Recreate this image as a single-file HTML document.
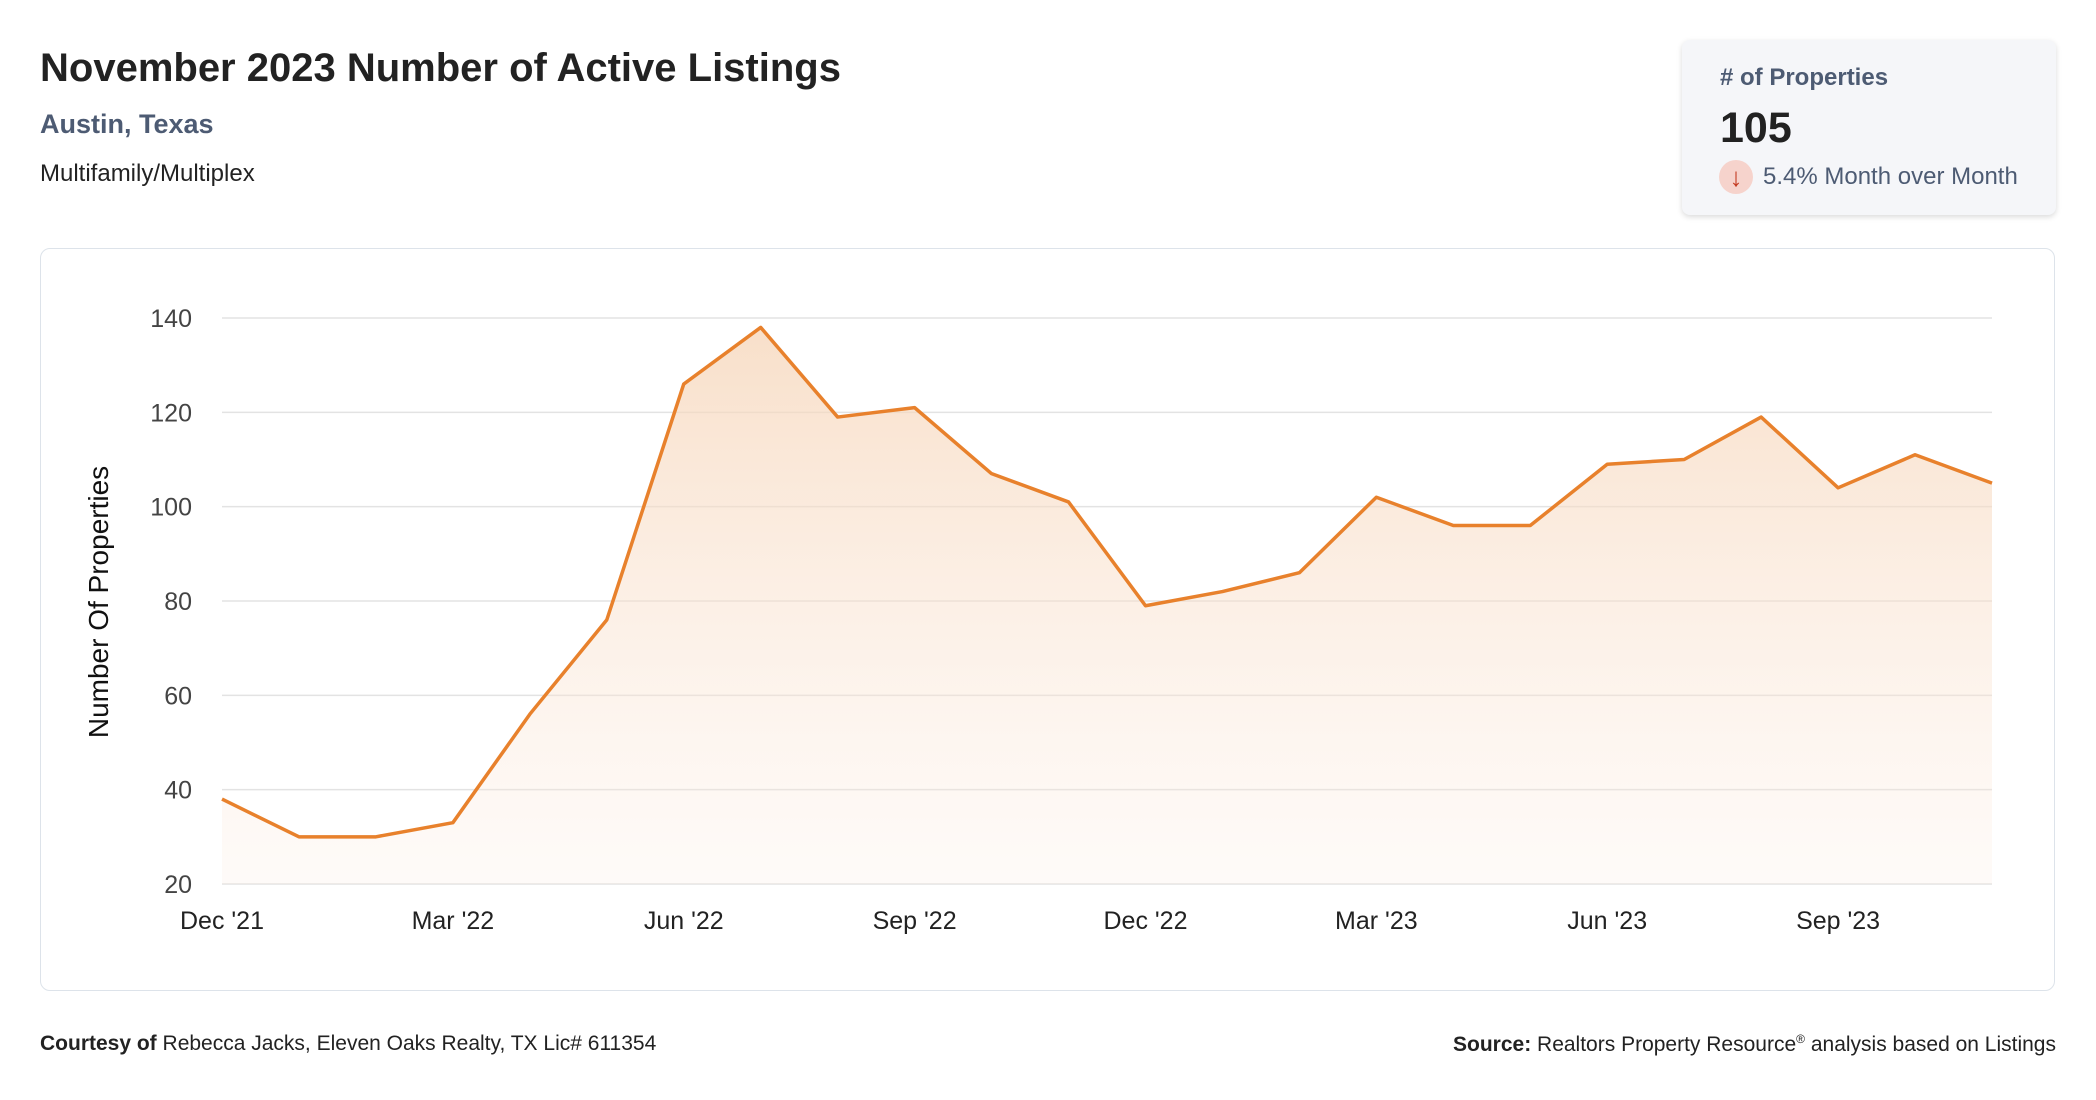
<!DOCTYPE html>
<html><head><meta charset="utf-8"><style>
body{margin:0;width:2096px;height:1100px;background:#fff;font-family:"Liberation Sans",sans-serif;position:relative;overflow:hidden}
.a{position:absolute;white-space:nowrap}
</style></head><body>
<div class="a" style="left:40px;top:46px;font-size:40px;font-weight:bold;color:#222">November 2023 Number of Active Listings</div>
<div class="a" style="left:40px;top:109px;font-size:27px;font-weight:bold;color:#4d5b73">Austin, Texas</div>
<div class="a" style="left:40px;top:160px;font-size:24px;color:#222">Multifamily/Multiplex</div>
<div class="a" style="left:1682px;top:40px;width:374px;height:175px;background:#f5f6f9;border-radius:8px;box-shadow:0 2px 6px rgba(0,0,0,.15)">
 <div class="a" style="left:38px;top:24px;font-size:24px;font-weight:bold;color:#4d5b73"># of Properties</div>
 <div class="a" style="left:38px;top:64px;font-size:43px;font-weight:bold;color:#222">105</div>
 <div class="a" style="left:37px;top:120px;width:34px;height:34px;border-radius:50%;background:#f6d3cc;color:#c43b22;font-size:26px;line-height:34px;text-align:center">↓</div>
 <div class="a" style="left:81px;top:123px;font-size:24px;color:#4d5b73">5.4% Month over Month</div>
</div>
<div class="a" style="left:40px;top:248px;width:2013px;height:741px;border:1.5px solid #dde3ea;border-radius:10px"></div>
<svg class="a" style="left:0;top:0" width="2096" height="1100">
<defs><linearGradient id="g" x1="0" y1="0" x2="0" y2="1"><stop offset="0" stop-color="#f6d5b8" stop-opacity=".75"/><stop offset="1" stop-color="#fbe9dc" stop-opacity=".2"/></linearGradient></defs>
<g id="grid"></g><path id="area" fill="url(#g)"/><path id="line" fill="none" stroke="#e8812c" stroke-width="3.5" stroke-linejoin="round"/><g id="xl"></g>
<text transform="translate(108,602) rotate(-90)" text-anchor="middle" font-size="28" fill="#111" font-family="Liberation Sans, sans-serif">Number Of Properties</text>
</svg>
<div class="a" style="left:40px;top:1032px;font-size:21px;color:#222"><b>Courtesy of</b> Rebecca Jacks, Eleven Oaks Realty, TX Lic# 611354</div>
<div class="a" style="right:40px;top:1032px;font-size:21px;color:#222"><b>Source:</b> Realtors Property Resource<sup style="font-size:12px">®</sup> analysis based on Listings</div>
<script>
const values=[38,30,30,33,56,76,126,138,119,121,107,101,79,82,86,102,96,96,109,110,119,104,111,105];
const yTicks=[20,40,60,80,100,120,140];
const xLabels=["Dec '21","Mar '22","Jun '22","Sep '22","Dec '22","Mar '23","Jun '23","Sep '23"];
const xLabelIdx=[0,3,6,9,12,15,18,21];
const X0=222,X1=1992,Y0=884,Y1=318,ymin=20,ymax=140;
const x=i=>X0+(X1-X0)*i/(values.length-1);
const y=v=>Y0-(Y0-Y1)*(v-ymin)/(ymax-ymin);
const NS="http://www.w3.org/2000/svg";
const grid=document.getElementById('grid');
yTicks.forEach(t=>{
 const l=document.createElementNS(NS,'line');
 
 
 l.setAttribute('x1',X0);l.setAttribute('x2',X1);l.setAttribute('y1',y(t));l.setAttribute('y2',y(t));
 l.setAttribute('stroke','#e3e3e3');l.setAttribute('stroke-width','1.5');grid.appendChild(l);
 const tx=document.createElementNS(NS,'text');
 
 
 tx.setAttribute('x',192);tx.setAttribute('y',y(t)+9);tx.setAttribute('text-anchor','end');
 tx.setAttribute('font-size','25');tx.setAttribute('fill','#444');tx.setAttribute('font-family','Liberation Sans, sans-serif');
 tx.textContent=t;grid.appendChild(tx);
});
let d=values.map((v,i)=>(i?'L':'M')+x(i)+','+y(v)).join('');
document.getElementById('line').setAttribute('d',d);
document.getElementById('area').setAttribute('d',d+'L'+x(values.length-1)+','+Y0+'L'+X0+','+Y0+'Z');
const xl=document.getElementById('xl');
xLabels.forEach((s,k)=>{
 const tx=document.createElementNS(NS,'text');
 
 
 tx.setAttribute('x',x(xLabelIdx[k]));tx.setAttribute('y',929);tx.setAttribute('text-anchor','middle');
 tx.setAttribute('font-size','25');tx.setAttribute('fill','#222');tx.setAttribute('font-family','Liberation Sans, sans-serif');
 tx.textContent=s;xl.appendChild(tx);
});
</script>
</body></html>
